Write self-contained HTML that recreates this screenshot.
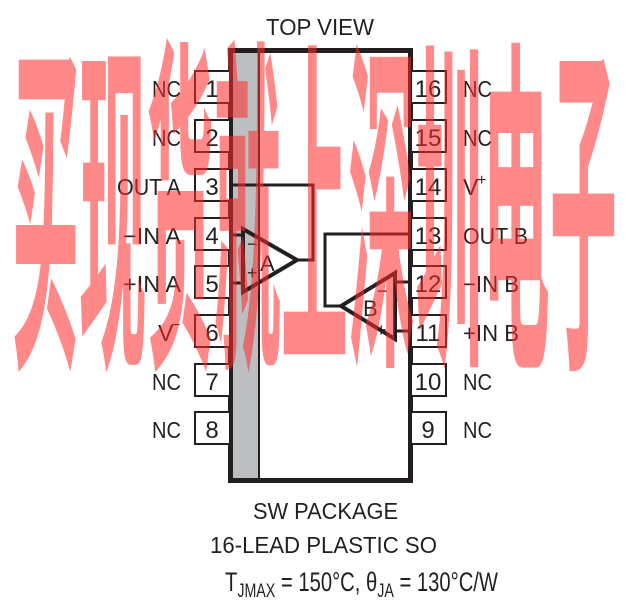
<!DOCTYPE html>
<html><head><meta charset="utf-8"><style>
html,body{margin:0;padding:0;background:#fff;}
svg{display:block;}
text{font-family:"Liberation Sans",sans-serif;fill:#231f20;}
</style></head><body>
<svg width="625" height="610" viewBox="0 0 625 610" xmlns="http://www.w3.org/2000/svg">
<rect width="625" height="610" fill="#fff"/>
<text x="266" y="35" font-size="23" textLength="108" lengthAdjust="spacingAndGlyphs">TOP VIEW</text>
<rect x="233" y="53" width="26" height="427" fill="#bcbec0"/>
<line x1="259" y1="53" x2="259" y2="480" stroke="#231f20" stroke-width="2"/>
<rect x="230.5" y="50.5" width="180" height="430" fill="none" stroke="#231f20" stroke-width="5"/>
<g fill="#fff" stroke="#231f20" stroke-width="2">
<rect x="195" y="71" width="35" height="32"/><rect x="195" y="120" width="35" height="32"/>
<rect x="195" y="169" width="35" height="32"/><rect x="195" y="218" width="35" height="32"/>
<rect x="195" y="266" width="35" height="32"/><rect x="195" y="315" width="35" height="32"/>
<rect x="195" y="364" width="35" height="32"/><rect x="195" y="412" width="35" height="32"/>
<rect x="411" y="71" width="35" height="32"/><rect x="411" y="120" width="35" height="32"/>
<rect x="411" y="169" width="35" height="32"/><rect x="411" y="218" width="35" height="32"/>
<rect x="411" y="266" width="35" height="32"/><rect x="411" y="315" width="35" height="32"/>
<rect x="411" y="364" width="35" height="32"/><rect x="411" y="412" width="35" height="32"/>
</g>
<g font-size="24" text-anchor="middle">
<text x="212" y="97">1</text><text x="212" y="146">2</text><text x="212" y="195">3</text><text x="212" y="244">4</text>
<text x="212" y="292">5</text><text x="212" y="341">6</text><text x="212" y="390">7</text><text x="212" y="438">8</text>
<text x="428" y="97">16</text><text x="428" y="146">15</text>
<text x="428" y="195">14</text><text x="428" y="244">13</text>
<text x="428" y="292">12</text><text x="428" y="341">11</text>
<text x="428" y="390">10</text><text x="428" y="438">9</text>
</g>
<g font-size="23">
<text x="152" y="97" textLength="29" lengthAdjust="spacingAndGlyphs">NC</text>
<text x="152" y="146" textLength="29" lengthAdjust="spacingAndGlyphs">NC</text>
<text x="117" y="195" textLength="64" lengthAdjust="spacingAndGlyphs">OUT A</text>
<text x="123" y="244" textLength="58" lengthAdjust="spacingAndGlyphs">−IN A</text>
<text x="123" y="292" textLength="58" lengthAdjust="spacingAndGlyphs">+IN A</text>
<text x="158" y="341">V</text><text x="171" y="330" font-size="16">−</text>
<text x="152" y="390" textLength="29" lengthAdjust="spacingAndGlyphs">NC</text>
<text x="152" y="438" textLength="29" lengthAdjust="spacingAndGlyphs">NC</text>
<text x="463" y="97" textLength="29" lengthAdjust="spacingAndGlyphs">NC</text>
<text x="463" y="146" textLength="29" lengthAdjust="spacingAndGlyphs">NC</text>
<text x="463" y="195">V</text><text x="477" y="185" font-size="16">+</text>
<text x="463" y="244" textLength="65" lengthAdjust="spacingAndGlyphs">OUT B</text>
<text x="463" y="292" textLength="56" lengthAdjust="spacingAndGlyphs">−IN B</text>
<text x="463" y="341" textLength="56" lengthAdjust="spacingAndGlyphs">+IN B</text>
<text x="463" y="390" textLength="29" lengthAdjust="spacingAndGlyphs">NC</text>
<text x="463" y="438" textLength="29" lengthAdjust="spacingAndGlyphs">NC</text>
</g>
<g fill="none" stroke="#231f20" stroke-width="3">
<polyline points="233,185 313,185 313,260 298,260"/>
<polygon points="243,229 243,292 297,260" stroke-width="4"/>
<line x1="233" y1="235" x2="243" y2="235"/>
<line x1="233" y1="283" x2="243" y2="283"/>
<polyline points="409,234 325,234 325,306 340,306"/>
<polygon points="395,273 395,339 341,306" stroke-width="4"/>
<line x1="395" y1="282" x2="409" y2="282"/>
<line x1="395" y1="331" x2="409" y2="331"/>
</g>
<text x="260" y="271" font-size="22">A</text>
<text x="247" y="250" font-size="18">−</text>
<text x="247" y="279" font-size="18">+</text>
<text x="363" y="316" font-size="22">B</text>
<text x="377" y="297" font-size="18">−</text>
<text x="376" y="336" font-size="18">+</text>
<text x="253" y="519" font-size="23" textLength="145" lengthAdjust="spacingAndGlyphs">SW PACKAGE</text>
<text x="210" y="553" font-size="23" textLength="227" lengthAdjust="spacingAndGlyphs">16-LEAD PLASTIC SO</text>
<text x="225" y="591" font-size="27" textLength="273" lengthAdjust="spacingAndGlyphs">T<tspan font-size="19" dy="6">JMAX</tspan><tspan dy="-6"> = 150°C, θ</tspan><tspan font-size="19" dy="6">JA</tspan><tspan dy="-6"> = 130°C/W</tspan></text>
<g transform="scale(1,5.34)">
<text x="12" y="63.7" font-size="66" textLength="605" lengthAdjust="spacingAndGlyphs" style="font-family:'Noto Sans CJK SC',sans-serif;fill:rgba(255,40,40,0.55);font-weight:bold">买现货就上深圳电子</text>
</g>
</svg>
</body></html>
